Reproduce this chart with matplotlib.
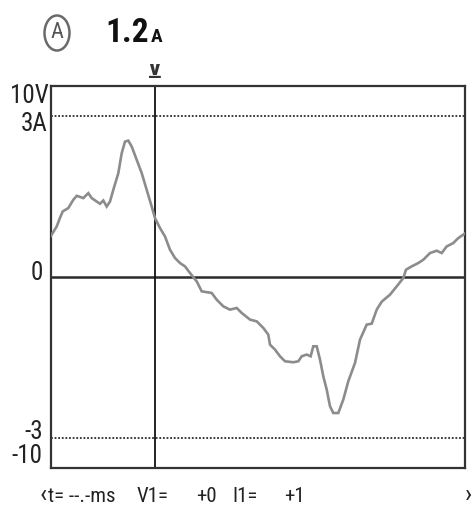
import matplotlib

matplotlib.use("Agg")
import matplotlib.pyplot as plt
from matplotlib.patches import Ellipse

# trace: time as % of screen width, current in A
t_pct = [0, 1.38, 2.18, 2.83, 4.18, 5.39, 6.22, 7.81, 9.02, 9.84, 11.05, 11.85,
         12.65, 13.47, 14.27, 15.07, 16.28, 17.10, 17.90, 18.69, 19.52, 20.73,
         21.94, 23.14, 24.35, 25.15, 26.36, 27.57, 28.78, 29.99, 31.20, 32.41,
         33.62, 34.58, 35.24, 36.45, 38.86, 40.07, 41.67, 43.29, 44.91, 46.12,
         48.13, 49.75, 51.34, 52.55, 52.96, 54.17, 55.38, 56.59, 58.60, 59.81,
         60.63, 61.84, 62.80, 63.43, 64.26, 65.05, 65.85, 66.67, 67.47, 68.27,
         69.48, 70.69, 71.90, 73.52, 74.73, 76.35, 77.56, 78.77, 79.98, 81.98,
         83.60, 85.20, 85.85, 87.23, 88.83, 90.04, 91.66, 93.27, 94.49, 95.69,
         97.29, 98.50, 100]
amps = [0.767, 0.940, 1.102, 1.219, 1.282, 1.436, 1.510, 1.468, 1.560, 1.468,
        1.404, 1.362, 1.423, 1.311, 1.404, 1.622, 1.932, 2.303, 2.519, 2.537,
        2.426, 2.179, 1.932, 1.622, 1.311, 1.096, 0.910, 0.754, 0.507, 0.353,
        0.260, 0.197, 0.074, -0.019, -0.082, -0.267, -0.297, -0.422, -0.546,
        -0.607, -0.576, -0.669, -0.793, -0.825, -0.947, -1.072, -1.258, -1.350,
        -1.475, -1.568, -1.586, -1.568, -1.475, -1.443, -1.475, -1.289, -1.289,
        -1.536, -1.846, -2.093, -2.404, -2.530, -2.530, -2.279, -1.939, -1.598,
        -1.165, -0.886, -0.868, -0.607, -0.459, -0.329, -0.175, -0.019, 0.136,
        0.197, 0.260, 0.321, 0.446, 0.489, 0.446, 0.568, 0.632, 0.724, 0.804]

I_RANGE = 3.0          # dotted limit lines, A
Y_FULL = 3.553         # screen top/bottom (10 V)
cursor_pct = 25.2
reading = "1.2"
# scale labels: text, right edge px, centre px
scale_labels = [("10V", 49, 96), ("3A", 48, 124), ("0", 43, 273),
                ("-3", 43, 432), ("-10", 42, 456)]
readout = [("t= --.-ms", 48), ("V1=", 137), ("+0", 196),
           ("I1=", 232), ("+1", 284)]

COND = ["Roboto Condensed", "DejaVu Sans"]
INK = "#2b2b2b"
W, H = 474, 508


def fx(px):
    return px / W


def fy(py):
    return 1 - py / H


fig = plt.figure(figsize=(W / 100, H / 100), dpi=100)
ax = fig.add_axes([fx(51), 40 / H, 413.5 / W, 382 / H])
ax.set_xlim(0, 100)
ax.set_ylim(-Y_FULL, Y_FULL)
ax.set_xticks([])
ax.set_yticks([])
for s in ax.spines.values():
    s.set_linewidth(1.6)
    s.set_color("#333333")

ax.axhline(0, color=INK, lw=1.8, zorder=2)
for lvl in (I_RANGE, -I_RANGE):
    ax.axhline(lvl, color=INK, lw=1.3, ls=(0, (1, 1)), zorder=2)
ax.axvline(cursor_pct, color="#111111", lw=1.3, zorder=2)
ax.plot(t_pct, amps, color="#8c8c8c", lw=1.9, zorder=3, solid_joinstyle="miter")

# left scale labels
for txt, xr, yc in scale_labels:
    fig.text(fx(xr), fy(yc), txt, ha="right", va="center", family=COND,
             color="#222222", fontsize=18)

# cursor marker above the screen
fig.text(fx(155), fy(73), "\u22bb", ha="center", va="center", fontsize=14,
         fontweight="bold", color="#333333")

# meter header
fig.add_artist(Ellipse((fx(57), fy(33)), 25 / W, 35 / H,
                       transform=fig.transFigure, fill=False,
                       edgecolor="#6a6a6a", lw=1.8))
fig.text(fx(57), fy(33), "A", ha="center", va="center", family=COND,
         fontsize=16, color="#555555")
fig.text(fx(105), fy(42), reading, ha="left", va="baseline", family=COND,
         fontsize=24, fontweight="bold", color="#111111")
fig.text(fx(151), fy(42), "A", ha="left", va="baseline", family=COND,
         fontsize=14, fontweight="bold", color="#111111")

# readout line under the screen, with scroll arrows at both ends
for txt, xl in readout:
    fig.text(fx(xl), fy(496), txt, ha="left", va="center", family=COND,
             fontsize=15, color="#222222")
fig.text(fx(40), fy(495), "\u2039", ha="left", va="center", family=COND,
         fontsize=19, color="#222222")
fig.text(fx(472), fy(495), "\u203a", ha="right", va="center", family=COND,
         fontsize=19, color="#222222")

fig.savefig("out.png", dpi=100)
